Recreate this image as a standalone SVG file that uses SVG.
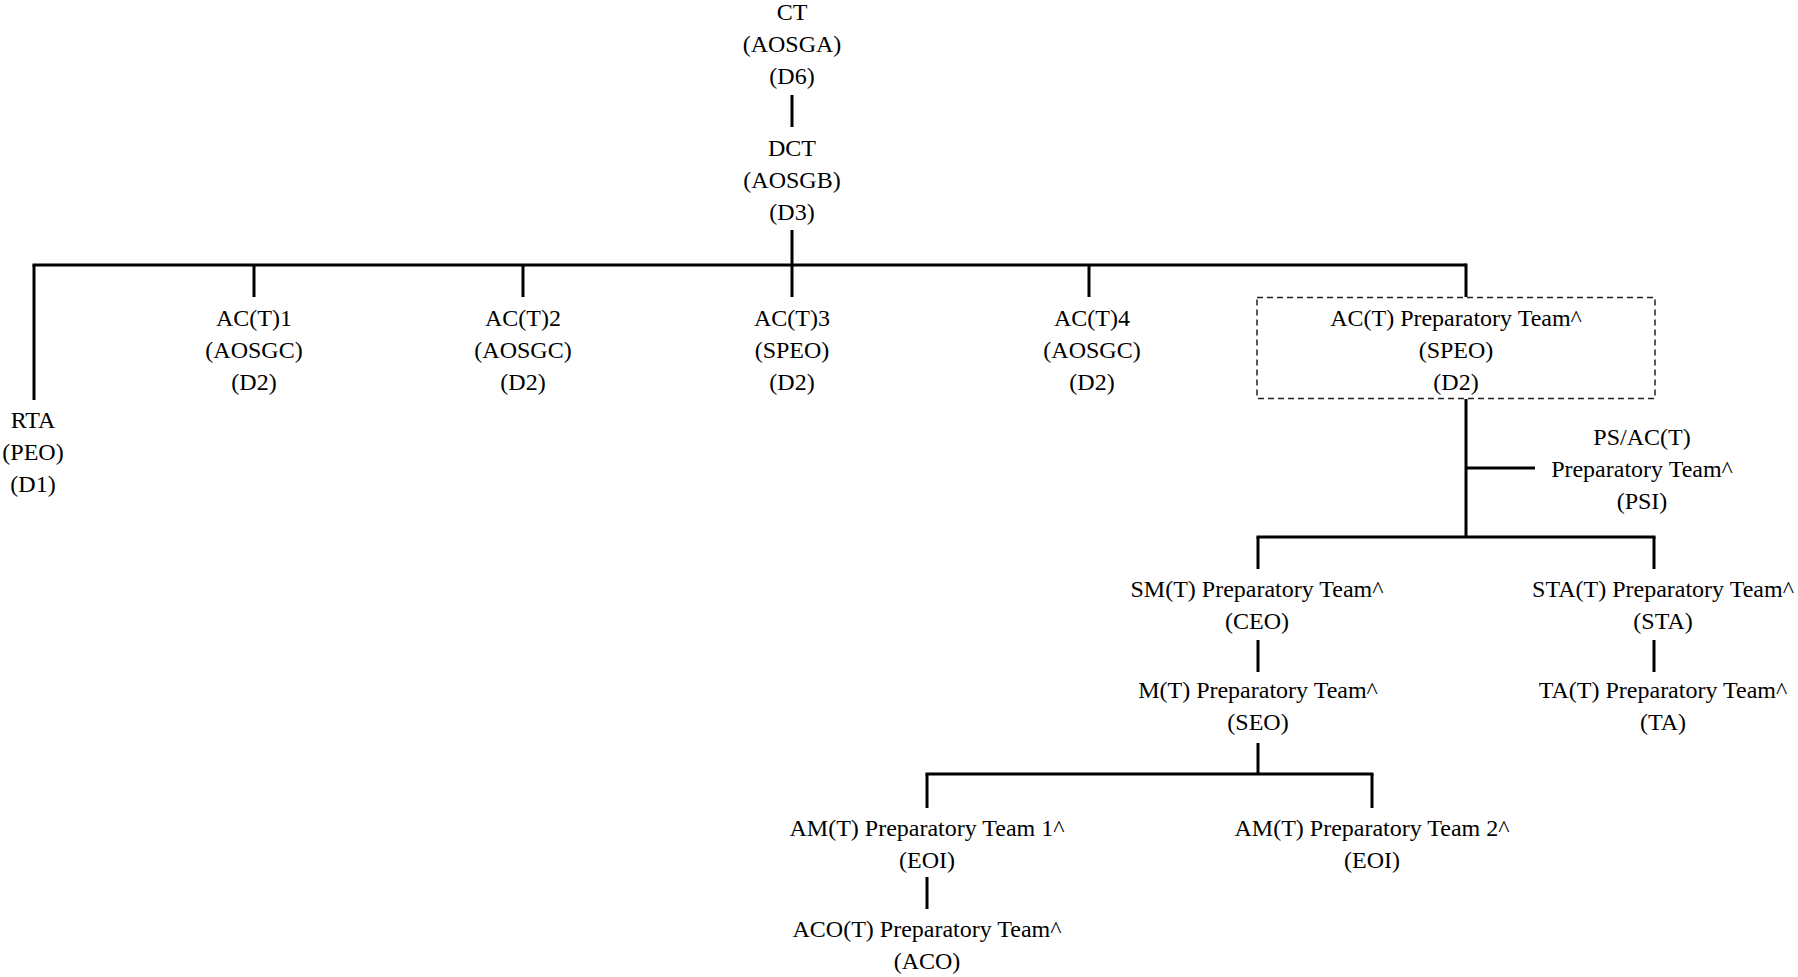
<svg xmlns="http://www.w3.org/2000/svg" width="1798" height="977" viewBox="0 0 1798 977">
<style>
text{font-family:"Liberation Serif","Times New Roman",serif;font-size:24px;fill:#000;text-anchor:middle}
.c line{stroke:#000;stroke-width:3;fill:none}
.dash{fill:none;stroke:#222;stroke-width:1.5;stroke-dasharray:6 4}
</style>
<rect width="1798" height="977" fill="#fff"/>
<g id="connectors" class="c">
<line x1="792" y1="95" x2="792" y2="127"/>
<line x1="792" y1="230" x2="792" y2="265"/>
<line x1="32.5" y1="265" x2="1466" y2="265"/>
<line x1="34" y1="265" x2="34" y2="400"/>
<line x1="254" y1="265" x2="254" y2="297"/>
<line x1="523" y1="265" x2="523" y2="297"/>
<line x1="792" y1="265" x2="792" y2="297"/>
<line x1="1089" y1="265" x2="1089" y2="297"/>
<line x1="1466" y1="263.5" x2="1466" y2="297"/>
<line x1="1466" y1="399" x2="1466" y2="537"/>
<line x1="1466" y1="468" x2="1535" y2="468"/>
<line x1="1256.5" y1="537" x2="1655.5" y2="537"/>
<line x1="1258" y1="537" x2="1258" y2="569"/>
<line x1="1654" y1="537" x2="1654" y2="569"/>
<line x1="1258" y1="640" x2="1258" y2="672"/>
<line x1="1654" y1="640" x2="1654" y2="672"/>
<line x1="1258" y1="743" x2="1258" y2="774"/>
<line x1="925.5" y1="774" x2="1373.5" y2="774"/>
<line x1="927" y1="774" x2="927" y2="808"/>
<line x1="1372" y1="774" x2="1372" y2="808"/>
<line x1="927" y1="877" x2="927" y2="909"/>
</g>
<g id="ct"><text x="792" y="20">CT</text><text x="792" y="52">(AOSGA)</text><text x="792" y="84">(D6)</text></g>
<g id="dct"><text x="792" y="156">DCT</text><text x="792" y="188">(AOSGB)</text><text x="792" y="220">(D3)</text></g>
<g id="rta"><text x="33" y="428">RTA</text><text x="33" y="460">(PEO)</text><text x="33" y="492">(D1)</text></g>
<g id="act1"><text x="254" y="326">AC(T)1</text><text x="254" y="358">(AOSGC)</text><text x="254" y="390">(D2)</text></g>
<g id="act2"><text x="523" y="326">AC(T)2</text><text x="523" y="358">(AOSGC)</text><text x="523" y="390">(D2)</text></g>
<g id="act3"><text x="792" y="326">AC(T)3</text><text x="792" y="358">(SPEO)</text><text x="792" y="390">(D2)</text></g>
<g id="act4"><text x="1092" y="326">AC(T)4</text><text x="1092" y="358">(AOSGC)</text><text x="1092" y="390">(D2)</text></g>
<g id="actprep"><rect class="dash" x="1257" y="297.5" width="398" height="101"/><text x="1456" y="326">AC(T) Preparatory Team^</text><text x="1456" y="358">(SPEO)</text><text x="1456" y="390">(D2)</text></g>
<g id="psact"><text x="1642" y="445">PS/AC(T)</text><text x="1642" y="477">Preparatory Team^</text><text x="1642" y="509">(PSI)</text></g>
<g id="smt"><text x="1257" y="597">SM(T) Preparatory Team^</text><text x="1257" y="629">(CEO)</text></g>
<g id="mt"><text x="1258" y="698">M(T) Preparatory Team^</text><text x="1258" y="730">(SEO)</text></g>
<g id="stat"><text x="1663" y="597">STA(T) Preparatory Team^</text><text x="1663" y="629">(STA)</text></g>
<g id="tat"><text x="1663" y="698">TA(T) Preparatory Team^</text><text x="1663" y="730">(TA)</text></g>
<g id="amt1"><text x="927" y="836">AM(T) Preparatory Team 1^</text><text x="927" y="868">(EOI)</text></g>
<g id="amt2"><text x="1372" y="836">AM(T) Preparatory Team 2^</text><text x="1372" y="868">(EOI)</text></g>
<g id="acot"><text x="927" y="937">ACO(T) Preparatory Team^</text><text x="927" y="969">(ACO)</text></g>
</svg>
